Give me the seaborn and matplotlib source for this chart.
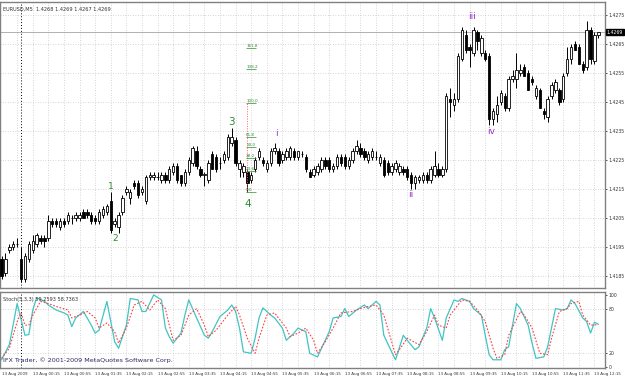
import numpy as np
import pandas as pd
import matplotlib
matplotlib.use("Agg")
import matplotlib.pyplot as plt
import seaborn as sns

# ---------------------------------------------------------------------------
# EURUSD M5 candles (one entry per bar)
# ---------------------------------------------------------------------------
open_ = [
    1.4191, 1.4186, 1.4194, 1.4195, 1.4196, 1.4191, 1.4184, 1.4191, 1.4194, 1.4196,
    1.4198, 1.4198, 1.4198, 1.4204, 1.4204, 1.4202, 1.4204, 1.4204, 1.4205, 1.4205,
    1.4205, 1.4207, 1.4207, 1.4206, 1.4205, 1.4204, 1.4206, 1.4207, 1.4211, 1.4203,
    1.4202, 1.4207, 1.4214, 1.4212, 1.4217, 1.4217, 1.4214, 1.4211, 1.4219, 1.4219,
    1.4219, 1.4218, 1.4220, 1.4218, 1.4221, 1.4223, 1.4220, 1.4217, 1.4221, 1.4224,
    1.4228, 1.4222, 1.4220, 1.4218, 1.4227, 1.4226, 1.4224, 1.4225, 1.4226, 1.4231,
    1.4232, 1.4222, 1.4221, 1.4221, 1.4218, 1.4222, 1.4226, 1.4225, 1.4222, 1.4224,
    1.4228, 1.4228, 1.4225, 1.4226, 1.4226, 1.4228, 1.4226, 1.4227, 1.4226, 1.4221,
    1.4220, 1.4221, 1.4222, 1.4225, 1.4225, 1.4222, 1.4223, 1.4226, 1.4226, 1.4223,
    1.4225, 1.4228, 1.4229, 1.4228, 1.4225, 1.4226, 1.4226, 1.4224, 1.4225, 1.4224,
    1.4221, 1.4222, 1.4221, 1.4222, 1.4222, 1.4220, 1.4217, 1.4218, 1.4218, 1.4220,
    1.4218, 1.4220, 1.4222, 1.4220, 1.4222, 1.4246, 1.4244, 1.4246, 1.4260, 1.4268,
    1.4264, 1.4262, 1.4269, 1.4262, 1.4262, 1.4261, 1.4239, 1.4241, 1.4245, 1.4247,
    1.4243, 1.4253, 1.4253, 1.4255, 1.4257, 1.4255, 1.4253, 1.4247, 1.4249, 1.4242,
    1.4240, 1.4247, 1.4249, 1.4249, 1.4246, 1.4255, 1.4260, 1.4265, 1.4264, 1.4258,
    1.4257, 1.4270, 1.4259, 1.4268,
]
high = [
    1.4192, 1.4193, 1.4196, 1.4197, 1.4198, 1.4195, 1.4193, 1.4197, 1.4199, 1.4200,
    1.4199, 1.4199, 1.4206, 1.4205, 1.4205, 1.4205, 1.4205, 1.4207, 1.4206, 1.4207,
    1.4207, 1.4208, 1.4208, 1.4207, 1.4206, 1.4208, 1.4209, 1.4210, 1.4214, 1.4205,
    1.4207, 1.4213, 1.4216, 1.4215, 1.4218, 1.4218, 1.4216, 1.4220, 1.4221, 1.4221,
    1.4221, 1.4221, 1.4221, 1.4223, 1.4224, 1.4224, 1.4220, 1.4222, 1.4226, 1.4230,
    1.4230, 1.4223, 1.4221, 1.4225, 1.4228, 1.4227, 1.4226, 1.4228, 1.4234, 1.4236,
    1.4233, 1.4225, 1.4224, 1.4222, 1.4221, 1.4226, 1.4229, 1.4226, 1.4225, 1.4229,
    1.4231, 1.4229, 1.4228, 1.4229, 1.4230, 1.4229, 1.4228, 1.4228, 1.4227, 1.4222,
    1.4223, 1.4224, 1.4226, 1.4226, 1.4226, 1.4224, 1.4227, 1.4227, 1.4227, 1.4226,
    1.4229, 1.4232, 1.4231, 1.4229, 1.4228, 1.4229, 1.4228, 1.4227, 1.4226, 1.4225,
    1.4224, 1.4225, 1.4224, 1.4223, 1.4223, 1.4221, 1.4220, 1.4220, 1.4221, 1.4221,
    1.4223, 1.4228, 1.4224, 1.4223, 1.4248, 1.4250, 1.4248, 1.4262, 1.4271, 1.4270,
    1.4265, 1.4271, 1.4270, 1.4268, 1.4263, 1.4262, 1.4243, 1.4247, 1.4249, 1.4248,
    1.4254, 1.4256, 1.4262, 1.4258, 1.4258, 1.4256, 1.4254, 1.4251, 1.4250, 1.4243,
    1.4247, 1.4252, 1.4253, 1.4250, 1.4255, 1.4264, 1.4265, 1.4266, 1.4265, 1.4259,
    1.4273, 1.4271, 1.4269, 1.4269,
]
low = [
    1.4184, 1.4185, 1.4193, 1.4194, 1.4195, 1.4183, 1.4183, 1.4190, 1.4193, 1.4195,
    1.4196, 1.4195, 1.4197, 1.4202, 1.4202, 1.4201, 1.4202, 1.4203, 1.4203, 1.4204,
    1.4204, 1.4205, 1.4205, 1.4203, 1.4203, 1.4203, 1.4205, 1.4206, 1.4200, 1.4202,
    1.4200, 1.4206, 1.4213, 1.4210, 1.4215, 1.4212, 1.4213, 1.4210, 1.4218, 1.4218,
    1.4218, 1.4217, 1.4217, 1.4217, 1.4220, 1.4217, 1.4216, 1.4216, 1.4220, 1.4223,
    1.4222, 1.4219, 1.4216, 1.4217, 1.4222, 1.4221, 1.4222, 1.4224, 1.4225, 1.4230,
    1.4223, 1.4219, 1.4219, 1.4214, 1.4217, 1.4221, 1.4225, 1.4223, 1.4221, 1.4223,
    1.4227, 1.4223, 1.4224, 1.4225, 1.4225, 1.4225, 1.4225, 1.4226, 1.4221, 1.4219,
    1.4219, 1.4220, 1.4221, 1.4222, 1.4221, 1.4221, 1.4222, 1.4223, 1.4222, 1.4222,
    1.4224, 1.4227, 1.4226, 1.4225, 1.4224, 1.4225, 1.4225, 1.4223, 1.4219, 1.4220,
    1.4220, 1.4221, 1.4220, 1.4220, 1.4218, 1.4215, 1.4215, 1.4217, 1.4217, 1.4217,
    1.4217, 1.4219, 1.4219, 1.4219, 1.4221, 1.4240, 1.4242, 1.4245, 1.4259, 1.4262,
    1.4257, 1.4261, 1.4263, 1.4261, 1.4259, 1.4237, 1.4237, 1.4238, 1.4244, 1.4242,
    1.4242, 1.4252, 1.4250, 1.4254, 1.4254, 1.4249, 1.4251, 1.4246, 1.4243, 1.4239,
    1.4238, 1.4246, 1.4248, 1.4244, 1.4245, 1.4254, 1.4258, 1.4263, 1.4258, 1.4255,
    1.4256, 1.4258, 1.4258, 1.4267,
]
close = [
    1.4185, 1.4191, 1.4195, 1.4196, 1.4196, 1.4184, 1.4192, 1.4196, 1.4197, 1.4199,
    1.4197, 1.4197, 1.4204, 1.4203, 1.4203, 1.4204, 1.4203, 1.4206, 1.4205, 1.4206,
    1.4206, 1.4205, 1.4206, 1.4204, 1.4204, 1.4207, 1.4208, 1.4209, 1.4201, 1.4204,
    1.4206, 1.4212, 1.4215, 1.4214, 1.4216, 1.4213, 1.4215, 1.4219, 1.4220, 1.4220,
    1.4219, 1.4220, 1.4218, 1.4222, 1.4223, 1.4218, 1.4217, 1.4221, 1.4225, 1.4229,
    1.4223, 1.4220, 1.4220, 1.4224, 1.4222, 1.4222, 1.4224, 1.4227, 1.4233, 1.4233,
    1.4224, 1.4224, 1.4223, 1.4217, 1.4220, 1.4225, 1.4228, 1.4224, 1.4224, 1.4228,
    1.4229, 1.4224, 1.4227, 1.4228, 1.4229, 1.4226, 1.4228, 1.4227, 1.4222, 1.4219,
    1.4222, 1.4223, 1.4225, 1.4223, 1.4222, 1.4223, 1.4226, 1.4224, 1.4223, 1.4225,
    1.4228, 1.4230, 1.4227, 1.4226, 1.4227, 1.4228, 1.4226, 1.4226, 1.4220, 1.4221,
    1.4223, 1.4224, 1.4223, 1.4221, 1.4219, 1.4217, 1.4219, 1.4219, 1.4220, 1.4218,
    1.4222, 1.4223, 1.4220, 1.4222, 1.4247, 1.4245, 1.4246, 1.4261, 1.4270, 1.4263,
    1.4263, 1.4270, 1.4266, 1.4267, 1.4260, 1.4239, 1.4242, 1.4244, 1.4248, 1.4243,
    1.4253, 1.4254, 1.4256, 1.4256, 1.4254, 1.4249, 1.4252, 1.4250, 1.4243, 1.4241,
    1.4246, 1.4251, 1.4252, 1.4245, 1.4254, 1.4260, 1.4264, 1.4263, 1.4258, 1.4256,
    1.4270, 1.4260, 1.4268, 1.4269,
]

time_labels = [
    "13 Aug 2009", "13 Aug 00:15", "13 Aug 00:55", "13 Aug 01:35", "13 Aug 02:15",
    "13 Aug 02:55", "13 Aug 03:35", "13 Aug 04:15", "13 Aug 04:55", "13 Aug 05:35",
    "13 Aug 06:15", "13 Aug 06:55", "13 Aug 07:35", "13 Aug 08:15", "13 Aug 08:55",
    "13 Aug 09:35", "13 Aug 10:15", "13 Aug 10:55", "13 Aug 11:35", "13 Aug 12:15",
]
price_ticks = [1.4185, 1.4195, 1.4205, 1.4215, 1.4225, 1.4235, 1.4245, 1.4255, 1.4265, 1.4275]
last_price = 1.4269
day_start_bar = 5

# Stochastic(5,3,3) — %K (main) and %D (signal), read at their turning points
k_bar = [0, 2, 4, 6, 7, 8, 9, 11, 12, 14, 16, 17, 18, 19, 21, 23, 24, 25, 27, 28,
         29, 30, 32, 33, 35, 36, 37, 39, 41, 42, 43, 44, 46, 47, 48, 50, 52, 53, 54, 56,
         58, 59, 60, 61, 62, 64, 65, 66, 67, 69, 70, 72, 73, 75, 76, 78, 79, 81, 84, 85,
         87, 88, 89, 91, 93, 94, 96, 97, 98, 100, 101, 103, 104, 106, 107, 109, 110, 111, 113, 114,
         116, 117, 118, 120, 121, 123, 124, 125, 126, 128, 129, 130, 132, 133, 135, 136, 137, 139, 140, 142,
         144, 145, 146, 147, 149, 150, 151, 152, 153]
k_val = [10, 31, 88, 44, 45, 79, 96, 91, 86, 79, 75, 72, 56, 68, 77, 58, 47, 51, 91, 63,
         35, 26, 58, 95, 93, 77, 77, 100, 93, 54, 42, 33, 47, 72, 93, 68, 44, 40, 49, 70,
         79, 86, 77, 54, 21, 19, 40, 68, 82, 72, 68, 54, 37, 47, 54, 49, 19, 14, 49, 68,
         70, 81, 70, 79, 86, 81, 91, 86, 44, 21, 10, 44, 37, 24, 28, 54, 81, 68, 37, 68,
         93, 91, 95, 91, 81, 72, 44, 17, 10, 10, 24, 28, 88, 81, 58, 33, 12, 14, 28, 81,
         79, 81, 93, 88, 68, 63, 47, 62, 59.2593]
d_bar = [0, 2, 4, 5, 6, 7, 8, 10, 12, 14, 17, 18, 20, 22, 24, 25, 27, 29, 30, 32,
         34, 36, 38, 40, 42, 43, 44, 46, 48, 50, 52, 53, 55, 58, 60, 61, 63, 65, 66, 68,
         70, 71, 73, 74, 76, 78, 80, 81, 83, 85, 87, 90, 92, 94, 96, 98, 100, 101, 102, 104,
         107, 109, 111, 112, 114, 115, 117, 118, 120, 122, 124, 126, 127, 129, 130, 133, 134, 136, 138, 140,
         141, 143, 145, 146, 148, 149, 151, 153]
d_val = [12, 26, 63, 75, 58, 58, 72, 91, 88, 84, 79, 68, 72, 77, 68, 54, 61, 49, 33, 54,
         86, 91, 79, 93, 81, 58, 37, 44, 72, 81, 58, 42, 51, 72, 84, 72, 40, 19, 40, 72,
         75, 68, 54, 42, 47, 54, 37, 19, 35, 54, 75, 77, 81, 84, 86, 72, 35, 17, 24, 40,
         31, 49, 72, 58, 54, 72, 86, 93, 91, 79, 63, 26, 12, 17, 44, 77, 72, 54, 19, 17,
         40, 77, 81, 88, 91, 72, 58, 58.7363]
stoch_ticks = [0, 20, 80, 100]

# Elliott-style wave marks: (text, bar, price, colour)
wave_text = ["1", "2", "3", "4", "i", "ii", "iii", "iv"]
wave_bar = [28, 29, 59, 63, 70.5, 105, 120.7, 125.5]
wave_price = [1.42160, 1.41980, 1.42380, 1.42100, 1.42340, 1.42130, 1.42745, 1.42350]
wave_size = [6.5, 6.5, 7.5, 7.5, 6.5, 6.5, 6.5, 6.5]
wave_color = ["#2e8b2e"] * 4 + ["#9932cc"] * 4

# Fibonacci expansion drawn from the wave-4 low
fib_bar = 63
fib_low = 1.42140
fib_high = 1.42447
fib_ratios = [0.0, 0.236, 0.382, 0.5, 0.618, 1.0, 1.382, 1.618]
fib_labels = ["0.0", "23.6", "38.2", "50.0", "61.8", "100.0", "138.2", "161.8"]

# ---------------------------------------------------------------------------
# Figure
# ---------------------------------------------------------------------------
sns.set_style("white")
plt.rcParams["font.family"] = ["DejaVu Sans"]

W, H = 625, 379
fig = plt.figure(figsize=(W / 100, H / 100), dpi=100)
fig.patch.set_facecolor("white")
ax = fig.add_axes([0, 1 - 288 / H, 605 / W, 286 / H])
ax2 = fig.add_axes([0, 11 / H, 605 / W, 76 / H])

n = len(close)
bars = pd.DataFrame({"o": open_, "h": high, "l": low, "c": close})
bars["i"] = np.arange(n)
xlo, xhi = -0.4, 154.7
grid_c = "#c8c8c8"
axis_fs = 3.3

for a in (ax, ax2):
    a.set_xlim(xlo, xhi)
    for g in range(4, n + 2, 4):
        a.axvline(g, color=grid_c, lw=0.6, ls=(0, (1, 2)), zorder=0)
    a.axvline(day_start_bar, color="black", lw=0.7, ls=(0, (1, 2)), zorder=1)
    for s in a.spines.values():
        s.set_color("#808080")
        s.set_linewidth(1.0)

# ---- main price panel ----
ax.set_ylim(1.41809, 1.42795)
for p in price_ticks:
    ax.axhline(p, color=grid_c, lw=0.6, ls=(0, (1, 2)), zorder=0)
ax.axhline(last_price, color="#b0b0b0", lw=0.7, zorder=1)

ax.vlines(bars["i"], bars["l"], bars["h"], color="black", lw=0.7, zorder=2)
up = bars[bars["c"] >= bars["o"]]
dn = bars[bars["c"] < bars["o"]]
body_min = 0.000015
ax.bar(up["i"], np.maximum(up["c"] - up["o"], body_min), bottom=up["o"], width=0.62,
       color="white", edgecolor="black", linewidth=0.6, zorder=3)
ax.bar(dn["i"], np.maximum(dn["o"] - dn["c"], body_min), bottom=dn["c"], width=0.62,
       color="black", edgecolor="black", linewidth=0.6, zorder=3)

# fibonacci expansion
ax.vlines(fib_bar, fib_low, fib_high, color="#ff6060", lw=0.7, ls=(0, (1, 1.5)), zorder=4)
for r, t in zip(fib_ratios, fib_labels):
    lvl = fib_low + r * (fib_high - fib_low)
    ax.text(fib_bar - 0.3, lvl, t, fontsize=3.0, color="#2e8b2e", ha="left", va="bottom", zorder=5)
    ax.hlines(lvl, fib_bar - 0.3, fib_bar + 2.2, color="#2e8b2e", lw=0.5, zorder=5)

for t, b, p, s, c in zip(wave_text, wave_bar, wave_price, wave_size, wave_color):
    ax.text(b, p, t, fontsize=s, color=c, ha="center", va="center", zorder=6)

ax.set_xticks([])
ax.yaxis.tick_right()
ax.set_yticks(price_ticks)
ax.set_yticklabels([f"{p:.4f}" for p in price_ticks])
ax.tick_params(axis="y", labelsize=axis_fs, length=1.5, width=0.6, pad=1, colors="#333333")
ax.text(1.003, last_price, f"{last_price:.4f}", transform=ax.get_yaxis_transform(),
        fontsize=axis_fs, color="white", va="center", ha="left",
        bbox=dict(boxstyle="square,pad=0.1", fc="black", ec="black"), zorder=7)
ax.text(0.005, 0.985, "EURUSD,M5  1.4268 1.4269 1.4267 1.4269", transform=ax.transAxes,
        fontsize=3.6, color="#333333", ha="left", va="top")

# ---- stochastic panel ----
ax2.set_ylim(-1.4, 104)
for v in (20, 80):
    ax2.axhline(v, color=grid_c, lw=0.6, ls=(0, (1, 2)), zorder=0)
sns.lineplot(x=k_bar, y=k_val, ax=ax2, color="#40c4c4", lw=0.9, zorder=3)
sns.lineplot(x=d_bar, y=d_val, ax=ax2, color="#ff4040", lw=0.8, linestyle=(0, (1.5, 1.5)), zorder=3)
ax2.set_xlabel("")
ax2.set_ylabel("")
ax2.yaxis.tick_right()
ax2.set_yticks(stoch_ticks)
ax2.set_yticklabels([str(v) for v in stoch_ticks])
ax2.tick_params(axis="y", labelsize=axis_fs, length=1.5, width=0.6, pad=1, colors="#333333")
ax2.set_xticks(np.arange(0, n, 8))
ax2.set_xticklabels(time_labels, ha="left")
ax2.tick_params(axis="x", labelsize=2.9, length=2, width=0.6, pad=1, colors="#333333")
ax2.text(0.005, 0.93, "Stoch(5,3,3) 59.2593 58.7363", transform=ax2.transAxes,
         fontsize=3.6, color="#333333", ha="left", va="top")
ax2.text(0.005, 0.06, "IFX Trader, \u00a9 2001-2009 MetaQuotes Software Corp.",
         transform=ax2.transAxes, fontsize=4.6, color="#2a2a66", ha="left", va="bottom")

fig.savefig("out.png", dpi=100)
